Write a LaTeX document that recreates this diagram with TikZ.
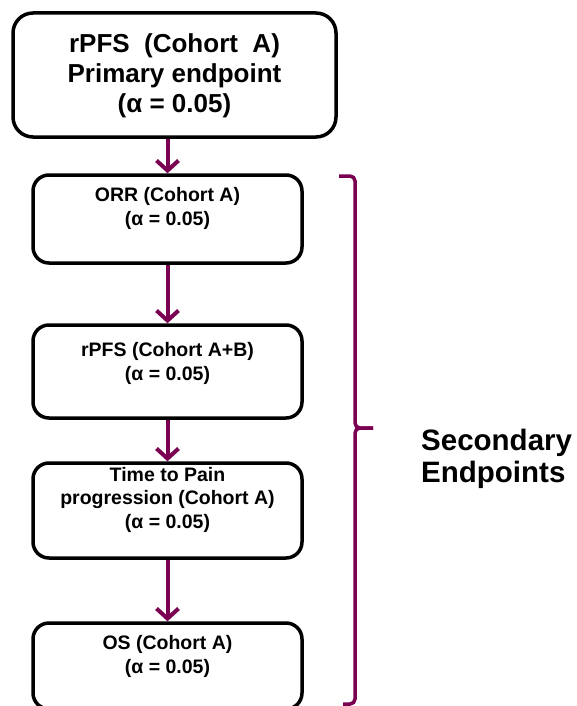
\documentclass[tikz,border=0pt]{standalone}
\usepackage{fontspec}
\setmainfont{Liberation Sans}
\usetikzlibrary{arrows.meta}
\definecolor{plum}{RGB}{122,0,82}
\begin{document}
\begin{tikzpicture}[x=1pt,y=-1pt,
  boxstyle/.style={draw=black, line width=3.5pt, rounded corners=16pt, inner sep=0pt},
  bigtxt/.style={font=\fontsize{26}{30}\selectfont\bfseries, align=center, inner sep=0pt, anchor=base},
  smalltxt/.style={font=\fontsize{19.5}{23.3}\selectfont\bfseries, align=center, inner sep=0pt, anchor=base},
  flow/.style={draw=plum, line width=4pt, -{Straight Barb[length=10pt,width=22pt]}},
  bracestyle/.style={draw=plum, line width=3.5pt, rounded corners=5pt}]
\useasboundingbox (0,0) rectangle (577,706);
% boxes
\node[boxstyle, rounded corners=20pt, minimum width=323pt, minimum height=124pt] (p0) at (174.5,75) {};
\node[boxstyle, minimum width=269pt, minimum height=88pt] (p1) at (167.5,219) {};
\node[boxstyle, minimum width=269pt, minimum height=93pt] (p2) at (167.5,371.5) {};
\node[boxstyle, minimum width=269pt, minimum height=95pt] (p3) at (167.5,510.5) {};
\node[boxstyle, minimum width=269pt, minimum height=86pt] (p4) at (167.5,666) {};
% texts (anchored at the baseline of their last line)
\node[bigtxt] (t0) at (174.5,113) {rPFS\ \ (Cohort\ \ A)\\Primary endpoint\\(α = 0.05)};
\node[smalltxt] (t1) at (167.5,225) {ORR (Cohort A)\\(α = 0.05)};
\node[smalltxt] (t2) at (167.5,380) {rPFS (Cohort A+B)\\(α = 0.05)};
\node[smalltxt] (t3) at (167.5,528) {Time to Pain\\progression (Cohort A)\\(α = 0.05)};
\node[smalltxt] (t4) at (167.5,673) {OS (Cohort A)\\(α = 0.05)};
% arrows
\draw[flow] (p1.north |- p0.south) -- (p1.north);
\draw[flow] (p1.south) -- (p2.north);
\draw[flow] (p2.south) -- (p3.north);
\draw[flow] (p3.south) -- (p4.north);
% brace
\coordinate (b0) at (339,176);
\coordinate (b1) at (355,176);
\coordinate (bm) at (355,428);
\coordinate (bt) at (373,428);
\coordinate (b2) at (355,704);
\coordinate (b3) at (343,704);
\draw[bracestyle] (b0) -- (b1) -- (bm) -- (bt);
\draw[bracestyle] (bt) -- (bm) -- (b2) -- (b3);
\node[font=\fontsize{29.5}{31.5}\selectfont\bfseries, align=left, inner sep=0pt, anchor=base west] (lab) at (421,482) {Secondary\\Endpoints};
\end{tikzpicture}
\end{document}
